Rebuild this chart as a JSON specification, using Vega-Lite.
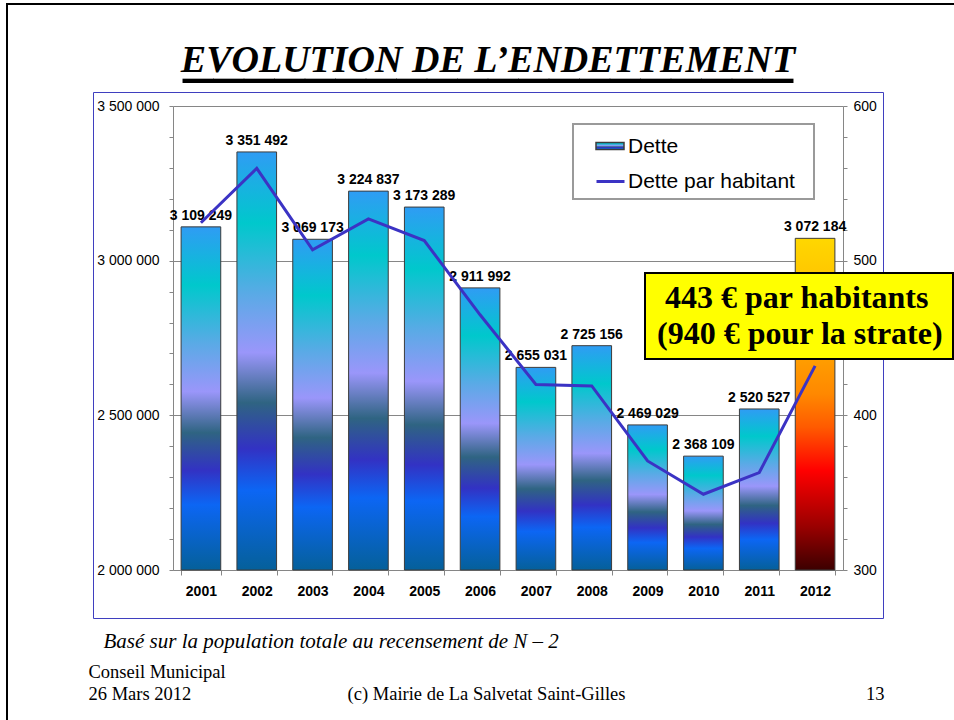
{
  "$schema": "https://vega.github.io/schema/vega-lite/v6.json",
  "width": 790,
  "height": 526,
  "autosize": "none",
  "padding": {"left": 93, "top": 92, "right": 71, "bottom": 102},
  "background": "white",
  "datasets": {
    "dette": [
      {"annee": "2001", "dette": 3109249, "habitant": 524.5},
      {"annee": "2002", "dette": 3351492, "habitant": 559.7},
      {"annee": "2003", "dette": 3069173, "habitant": 507},
      {"annee": "2004", "dette": 3224837, "habitant": 527},
      {"annee": "2005", "dette": 3173289, "habitant": 513},
      {"annee": "2006", "dette": 2911992, "habitant": 465},
      {"annee": "2007", "dette": 2655031, "habitant": 420},
      {"annee": "2008", "dette": 2725156, "habitant": 419},
      {"annee": "2009", "dette": 2469029, "habitant": 370.5},
      {"annee": "2010", "dette": 2368109, "habitant": 349},
      {"annee": "2011", "dette": 2520527, "habitant": 363},
      {"annee": "2012", "dette": 3072184, "habitant": 432}
    ],
    "notes": [
      {"note": "443 € par habitants"},
      {"note": "(940 € pour la strate)"}
    ]
  },
  "title": {
    "text": "EVOLUTION DE L’ENDETTEMENT",
    "subtitle": "____________________",
    "frame": "group",
    "anchor": "middle",
    "baseline": "top",
    "offset": -100,
    "font": "Liberation Serif",
    "fontSize": 38,
    "fontStyle": "italic",
    "fontWeight": "bold",
    "color": "black",
    "subtitleFont": "Liberation Serif",
    "subtitleFontSize": 61,
    "subtitleFontWeight": "bold",
    "subtitleColor": "black",
    "subtitlePadding": -54
  },
  "layer": [
    {
      "data": {"name": "dette"},
      "encoding": {
        "x": {
          "field": "annee",
          "type": "ordinal",
          "scale": {"range": [80, 750], "paddingInner": 0.29, "paddingOuter": 0.145},
          "axis": {
            "orient": "bottom",
            "offset": -48,
            "domainColor": "#868686",
            "tickColor": "#868686",
            "tickSize": 5,
            "tickBand": "extent",
            "labelAngle": 0,
            "labelFont": "Liberation Sans",
            "labelFontSize": 14,
            "labelFontWeight": "bold",
            "labelColor": "black",
            "labelPadding": 9,
            "title": "Basé sur la population totale au recensement de N – 2",
            "titleX": 10,
            "titleY": 77,
            "titleAlign": "left",
            "titleBaseline": "alphabetic",
            "titleFont": "Liberation Serif",
            "titleFontStyle": "italic",
            "titleFontWeight": "normal",
            "titleFontSize": 21,
            "titleColor": "black"
          }
        },
        "y": {
          "field": "dette",
          "type": "quantitative",
          "scale": {"domain": [2000000, 3500000], "range": [478, 14], "zero": false, "nice": false},
          "axis": {
            "orient": "left",
            "offset": -80,
            "values": [2000000, 2100000, 2200000, 2300000, 2400000, 2500000, 2600000, 2700000, 2800000, 2900000, 3000000, 3100000, 3200000, 3300000, 3400000, 3500000],
            "labelExpr": "datum.value % 500000 == 0 ? format(datum.value, ',') : ''",
            "labelOverlap": false,
            "grid": true,
            "gridColor": "#868686",
            "gridOpacity": {"condition": {"test": "datum.value % 500000 == 0", "value": 1}, "value": 0},
            "domainColor": "#868686",
            "tickColor": "#868686",
            "tickSize": 4,
            "labelFont": "Liberation Sans",
            "labelFontSize": 14,
            "labelColor": "black",
            "labelPadding": 10,
            "title": ["Conseil Municipal", "26 Mars 2012"],
            "titleAngle": 0,
            "titleX": -85,
            "titleY": 585,
            "titleAlign": "left",
            "titleBaseline": "alphabetic",
            "titleFont": "Liberation Serif",
            "titleFontSize": 18.5,
            "titleFontWeight": "normal",
            "titleColor": "black",
            "titleLineHeight": 22
          }
        }
      },
      "layer": [
        {
          "transform": [{"filter": "datum.annee != '2012'"}],
          "mark": {
            "type": "bar",
            "stroke": "#3c3c3c",
            "strokeWidth": 1,
            "fill": {
              "gradient": "linear", "x1": 0, "y1": 0, "x2": 0, "y2": 1,
              "stops": [
                {"offset": 0, "color": "#2f9cf4"},
                {"offset": 0.17, "color": "#00c8cc"},
                {"offset": 0.34, "color": "#5aaae6"},
                {"offset": 0.48, "color": "#9a96fa"},
                {"offset": 0.6, "color": "#2f6482"},
                {"offset": 0.71, "color": "#3232c4"},
                {"offset": 0.81, "color": "#0c66f4"},
                {"offset": 1, "color": "#05609a"}
              ]
            }
          },
          "encoding": {
            "y2": {"datum": 2000000},
            "opacity": {
              "datum": "Dette",
              "type": "nominal",
              "scale": {"domain": ["Dette"], "range": [1]},
              "legend": {
                "orient": "none",
                "legendX": 501,
                "legendY": 38,
                "title": null,
                "padding": 1,
                "fillColor": "white",
                "symbolType": "M-1,-0.25H1V0.25H-1Z",
                "symbolSize": 784,
                "symbolOffset": 0,
                "labelOffset": 0,
                "labelExpr": "''",
                "zindex": 1
              }
            }
          }
        },
        {
          "transform": [{"filter": "datum.annee == '2012'"}],
          "mark": {
            "type": "bar",
            "stroke": "#3c3c3c",
            "strokeWidth": 1,
            "fill": {
              "gradient": "linear", "x1": 0, "y1": 0, "x2": 0, "y2": 1,
              "stops": [
                {"offset": 0, "color": "#ffd700"},
                {"offset": 0.27, "color": "#ffb000"},
                {"offset": 0.47, "color": "#ff8800"},
                {"offset": 0.57, "color": "#ff5a00"},
                {"offset": 0.7, "color": "#ff0000"},
                {"offset": 0.87, "color": "#990000"},
                {"offset": 1, "color": "#3c0000"}
              ]
            }
          },
          "encoding": {"y2": {"datum": 2000000}}
        },
        {
          "mark": {"type": "text", "dy": -7, "baseline": "alphabetic", "font": "Liberation Sans", "fontSize": 14, "fontWeight": "bold", "color": "black"},
          "encoding": {"text": {"field": "dette", "type": "quantitative", "format": ","}}
        },
        {
          "mark": {"type": "point", "opacity": 0, "filled": true},
          "encoding": {
            "fill": {
              "field": "dette",
              "type": "quantitative",
              "scale": {"range": ["rgba(0,0,0,0)", "rgba(0,0,0,0)"]},
              "legend": {
                "orient": "none",
                "legendX": -86,
                "legendY": -88,
                "title": null,
                "direction": "vertical",
                "gradientLength": 1000,
                "gradientThickness": 1100,
                "gradientOpacity": 0,
                "gradientStrokeWidth": 0,
                "padding": 0,
                "labelExpr": "''",
                "labelOpacity": 0,
                "labelFontSize": 1,
                "strokeColor": "black"
              }
            }
          }
        }
      ]
    },
    {
      "data": {"name": "dette"},
      "mark": {"type": "line", "strokeWidth": 3},
      "encoding": {
        "x": {"field": "annee", "type": "ordinal"},
        "y": {
          "field": "habitant",
          "type": "quantitative",
          "scale": {"domain": [300, 600], "range": [478, 14], "zero": false, "nice": false},
          "axis": {
            "orient": "right",
            "offset": -40,
            "values": [300, 320, 340, 360, 380, 400, 420, 440, 460, 480, 500, 520, 540, 560, 580, 600],
            "labelExpr": "datum.value % 100 == 0 ? datum.label : ''",
            "labelOverlap": false,
            "grid": false,
            "domainColor": "#868686",
            "tickColor": "#868686",
            "tickSize": 4,
            "labelFont": "Liberation Sans",
            "labelFontSize": 14,
            "labelColor": "black",
            "labelPadding": 6,
            "title": "(c) Mairie de La Salvetat Saint-Gilles\u00a0\u00a0\u00a0\u00a0\u00a0\u00a0\u00a0\u00a0\u00a0\u00a0\u00a0\u00a0\u00a0\u00a0\u00a0\u00a0\u00a0\u00a0\u00a0\u00a0\u00a0\u00a0\u00a0\u00a0\u00a0\u00a0\u00a0\u00a0\u00a0\u00a0\u00a0\u00a0\u00a0\u00a0\u00a0\u00a0\u00a0\u00a0\u00a0\u00a0\u00a0\u00a0\u00a0\u00a0\u00a0\u00a0\u00a0\u00a0\u00a0\u00a0\u00a0\u00a013",
            "titleAngle": 0,
            "titleX": 41,
            "titleY": 607,
            "titleAlign": "right",
            "titleBaseline": "alphabetic",
            "titleFont": "Liberation Serif",
            "titleFontSize": 18.5,
            "titleFontWeight": "normal",
            "titleColor": "black",
            "titleLimit": 900
          }
        },
        "stroke": {
          "datum": "Dette par habitant",
          "type": "nominal",
          "scale": {"domain": ["Dette", "Dette par habitant"], "range": ["#3b33c4", "#3b33c4"]},
          "legend": {
            "orient": "none",
            "legendX": 480,
            "legendY": 32,
            "title": null,
            "padding": 7,
            "symbolOffset": 15,
            "symbolSize": 784,
            "symbolType": "stroke",
            "symbolStrokeWidth": 3,
            "labelOffset": 2,
            "labelFont": "Liberation Sans",
            "labelFontSize": 21,
            "labelColor": "black",
            "labelLimit": 400,
            "labelExpr": "datum.label + '\u00a0\u00a0\u200b'",
            "rowPadding": 9,
            "strokeColor": "#9a9a9a",
            "fillColor": "white"
          }
        }
      }
    },
    {
      "data": {"name": "notes"},
      "mark": {"type": "point", "opacity": 0},
      "encoding": {
        "shape": {
          "field": "note",
          "type": "nominal",
          "scale": {"domain": ["443 € par habitants", "(940 € pour la strate)"]},
          "legend": {
            "orient": "none",
            "legendX": 552,
            "legendY": 181,
            "title": null,
            "padding": 9,
            "fillColor": "#ffff00",
            "strokeColor": "black",
            "symbolSize": 0,
            "symbolOpacity": 0,
            "labelOffset": -29,
            "labelFont": "Liberation Serif",
            "labelFontWeight": "bold",
            "labelFontSize": 32,
            "labelColor": "black",
            "labelLimit": 500,
            "rowPadding": 4,
            "labelExpr": "(indexof(datum.label, '443') == 0 ? '\u200b\u00a0' : '') + datum.label"
          }
        }
      }
    }
  ],
  "resolve": {"scale": {"y": "independent"}},
  "config": {
    "locale": {"number": {"decimal": ",", "thousands": " ", "grouping": [3], "currency": ["", " €"]}},
    "view": {"stroke": "#3f3fbf", "strokeWidth": 1},
    "legend": {"strokeWidth": 2},
    "font": "Liberation Sans"
  }
}
